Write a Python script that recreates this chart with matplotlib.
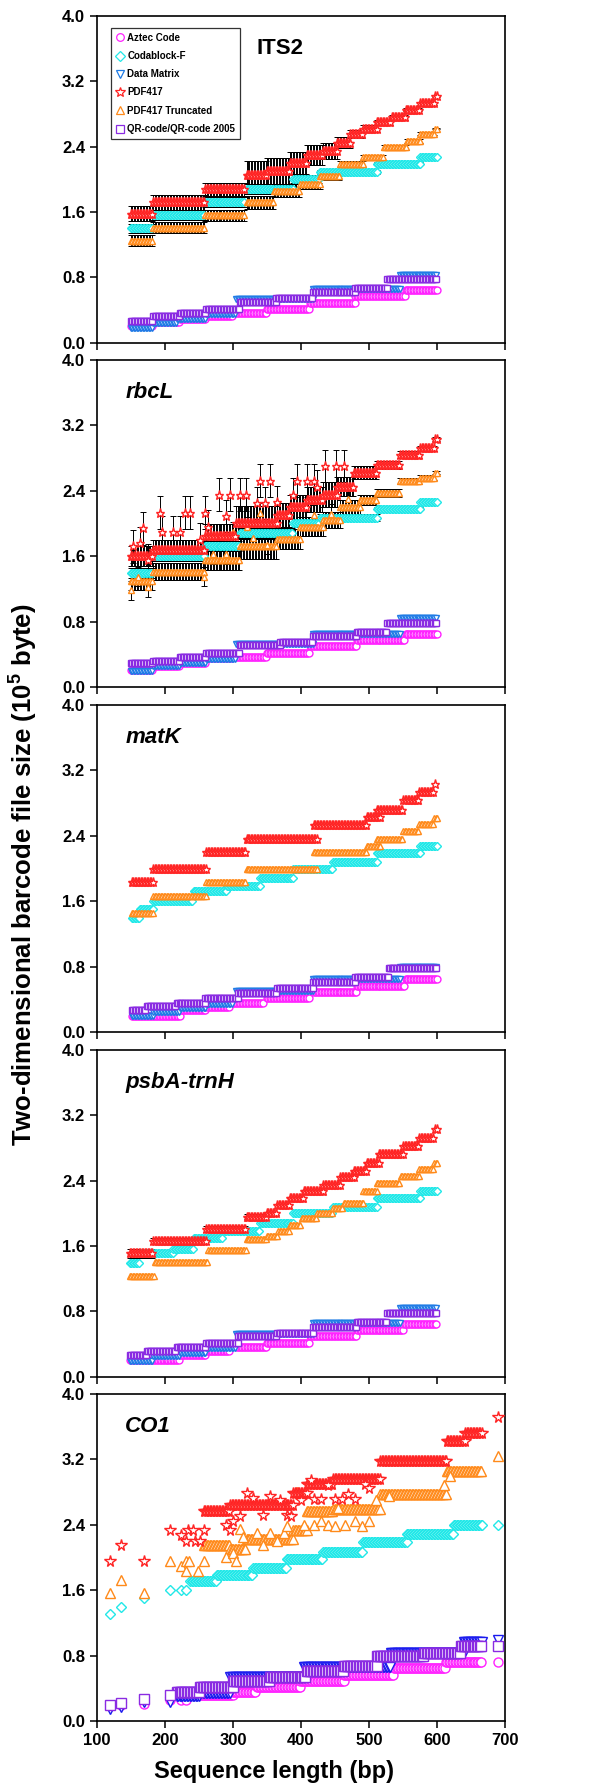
import numpy as np
import matplotlib
matplotlib.use('Agg')
import matplotlib.pyplot as plt
from matplotlib.lines import Line2D

plt.rcParams['font.family'] = ['Liberation Sans', 'DejaVu Sans']
plt.rcParams['font.weight'] = 'bold'
plt.rcParams['mathtext.fontset'] = 'custom'
plt.rcParams['mathtext.rm'] = 'Liberation Sans:bold'
plt.rcParams['mathtext.bf'] = 'Liberation Sans:bold'

# legend / series
names = ['Aztec Code', 'Codablock-F', 'Data Matrix', 'PDF417',
         'PDF417 Truncated', 'QR-code/QR-code 2005']
markers = ['o', 'D', 'v', '*', '^', 's']
colors = ['#ff22ff', '#22e8e8', '#1e7be6', '#ff2424', '#ff8a1a', '#8a2be2']

panel_titles = ['ITS2', 'rbcL', 'matK', 'psbA-trnH', 'CO1']
x_ticks = [100, 200, 300, 400, 500, 600, 700]
y_ticks = [0.0, 0.8, 1.6, 2.4, 3.2, 4.0]

# ---- data: step levels (x_start, x_end, size) ----
# ITS2
its2_aztec = [(150, 183, 0.21), (183, 222, 0.25), (222, 261, 0.29), (261, 300, 0.33), (305, 350, 0.37),
              (350, 413, 0.41), (413, 480, 0.49), (480, 554, 0.57), (554, 601, 0.65)]
its2_codablock = [(150, 183, 1.40), (183, 259, 1.56), (259, 318, 1.72), (320, 389, 1.88), (389, 428, 2.00),
                  (428, 512, 2.09), (512, 576, 2.19), (576, 601, 2.27)]
its2_codablock_sd = [0.06, 0.06, 0.06, 0.06, 0.05, 0.03, 0.02, 0.01]
its2_datamatrix = [(150, 183, 0.18), (183, 217, 0.24), (217, 261, 0.29), (261, 305, 0.35), (305, 418, 0.54),
                   (418, 546, 0.66), (546, 601, 0.83)]
its2_pdf417 = [(150, 183, 1.58), (183, 259, 1.72), (259, 318, 1.88), (320, 350, 2.05), (350, 384, 2.10),
               (384, 409, 2.20), (409, 433, 2.30), (433, 453, 2.35), (453, 473, 2.45), (473, 492, 2.55),
               (492, 512, 2.62), (512, 534, 2.70), (534, 554, 2.76), (554, 576, 2.85), (576, 596, 2.93),
               (598, 601, 3.02)]
its2_pdf417_sd = [0.09, 0.09, 0.08, 0.18, 0.16, 0.13, 0.12, 0.10, 0.07, 0.05, 0.04, 0.03, 0.03, 0.02, 0.02, 0.01]
its2_trunc = [(150, 183, 1.25), (183, 259, 1.41), (259, 318, 1.56), (320, 360, 1.72), (360, 399, 1.86),
              (399, 428, 1.94), (428, 458, 2.04), (458, 492, 2.19), (492, 522, 2.27), (522, 556, 2.39),
              (556, 576, 2.47), (576, 596, 2.56), (598, 601, 2.62)]
its2_trunc_sd = [0.07, 0.07, 0.07, 0.08, 0.08, 0.06, 0.05, 0.04, 0.03, 0.03, 0.02, 0.02, 0.01]
its2_qr = [(150, 183, 0.27), (183, 222, 0.33), (222, 261, 0.37), (261, 310, 0.42), (310, 364, 0.50),
           (364, 418, 0.55), (418, 480, 0.62), (480, 527, 0.67), (527, 601, 0.78)]

# rbcL
rbcl_aztec = [(150, 183, 0.21), (183, 222, 0.25), (222, 261, 0.29), (261, 300, 0.35), (300, 350, 0.37),
              (350, 413, 0.42), (413, 482, 0.50), (482, 554, 0.57), (554, 601, 0.65)]
rbcl_codablock = [(150, 183, 1.39), (183, 259, 1.60), (259, 310, 1.72), (310, 389, 1.88), (389, 428, 2.00),
                  (428, 512, 2.07), (512, 576, 2.18), (576, 601, 2.26)]
rbcl_codablock_sd = [0.06, 0.06, 0.06, 0.06, 0.05, 0.04, 0.02, 0.01]
rbcl_datamatrix = [(150, 183, 0.20), (183, 222, 0.25), (222, 261, 0.29), (261, 305, 0.34), (305, 418, 0.53),
                   (418, 546, 0.65), (546, 601, 0.84)]
rbcl_pdf417 = [(150, 183, 1.60), (183, 259, 1.68), (259, 305, 1.84), (305, 365, 2.01), (365, 384, 2.10),
               (384, 409, 2.20), (409, 433, 2.29), (433, 453, 2.35), (453, 478, 2.45), (478, 512, 2.62),
               (512, 546, 2.71), (546, 576, 2.84), (576, 596, 2.92), (598, 601, 3.03)]
rbcl_pdf417_sd = [0.12, 0.12, 0.15, 0.20, 0.15, 0.15, 0.15, 0.15, 0.12, 0.08, 0.05, 0.04, 0.03, 0.02]
rbcl_pdf417_x = [192, 195, 212, 222, 229, 237, 259, 264, 280, 296, 310, 319, 290, 335, 340, 355, 347, 365,
                 389, 395, 409, 419, 436, 451, 463, 424, 168, 153, 163, 175, 252]
rbcl_pdf417_y = [2.13, 1.89, 1.89, 1.89, 2.13, 2.13, 2.13, 1.96, 2.35, 2.35, 2.35, 2.35, 2.09, 2.25, 2.52,
                 2.52, 2.25, 2.26, 2.35, 2.52, 2.52, 2.52, 2.70, 2.70, 2.70, 2.45, 1.94, 1.72, 1.76, 1.55, 1.80]
rbcl_trunc = [(150, 183, 1.29), (183, 259, 1.41), (259, 310, 1.55), (310, 365, 1.72), (365, 399, 1.81),
              (399, 433, 1.96), (433, 458, 2.04), (458, 487, 2.20), (487, 512, 2.29), (512, 546, 2.37),
              (546, 576, 2.52), (576, 598, 2.56), (598, 601, 2.62)]
rbcl_trunc_sd = [0.10, 0.10, 0.12, 0.15, 0.12, 0.12, 0.10, 0.08, 0.06, 0.05, 0.04, 0.03, 0.02]
rbcl_trunc_x = [340, 320, 150, 160, 175, 258, 270, 290, 330, 350, 420, 445, 470, 300]
rbcl_trunc_y = [2.13, 1.96, 1.18, 1.35, 1.22, 1.35, 1.62, 1.62, 1.82, 1.74, 2.10, 2.12, 2.30, 1.90]
rbcl_qr = [(150, 183, 0.29), (183, 222, 0.32), (222, 261, 0.37), (261, 310, 0.41), (310, 370, 0.51),
           (370, 418, 0.55), (418, 482, 0.62), (482, 527, 0.67), (527, 601, 0.78)]

# matK
matk_aztec = [(151, 222, 0.20), (222, 261, 0.27), (261, 296, 0.31), (300, 345, 0.36), (350, 413, 0.41),
              (418, 482, 0.49), (482, 554, 0.56), (554, 601, 0.65)]
matk_codablock = [(151, 163, 1.39), (163, 183, 1.51), (183, 242, 1.60), (242, 291, 1.72), (291, 340, 1.79),
                  (340, 389, 1.88), (389, 448, 1.99), (448, 512, 2.08), (512, 576, 2.19), (576, 601, 2.28)]
matk_datamatrix = [(151, 183, 0.19), (183, 222, 0.24), (222, 261, 0.29), (261, 300, 0.34), (305, 418, 0.50),
                   (418, 546, 0.65), (546, 601, 0.80)]
matk_pdf417 = [(151, 183, 1.83), (183, 261, 1.99), (261, 320, 2.20), (320, 424, 2.36), (419, 497, 2.53),
               (497, 517, 2.63), (512, 551, 2.72), (551, 574, 2.84), (574, 596, 2.93), (598, 600, 3.03)]
matk_trunc = [(151, 183, 1.46), (183, 261, 1.66), (261, 320, 1.83), (320, 424, 1.99), (419, 497, 2.20),
              (497, 517, 2.28), (512, 551, 2.36), (551, 574, 2.46), (574, 596, 2.54), (596, 601, 2.62)]
matk_qr = [(151, 173, 0.27), (173, 217, 0.32), (217, 259, 0.36), (259, 308, 0.41), (308, 365, 0.48),
           (365, 418, 0.54), (418, 480, 0.61), (480, 529, 0.67), (529, 601, 0.78)]

# psbA-trnH
psba_aztec = [(148, 222, 0.21), (222, 261, 0.27), (261, 296, 0.32), (305, 350, 0.37), (350, 413, 0.42),
              (413, 482, 0.50), (482, 551, 0.57), (551, 601, 0.65)]
psba_codablock = [(148, 163, 1.39), (163, 212, 1.51), (212, 242, 1.57), (242, 286, 1.70), (286, 340, 1.79),
                  (340, 389, 1.88), (389, 448, 2.00), (448, 512, 2.08), (512, 576, 2.19), (576, 601, 2.27)]
psba_datamatrix = [(148, 183, 0.20), (183, 222, 0.25), (222, 261, 0.29), (261, 305, 0.35), (305, 418, 0.53),
                   (418, 546, 0.66), (546, 601, 0.84)]
psba_pdf417 = [(148, 183, 1.51), (183, 261, 1.66), (261, 320, 1.81), (320, 350, 1.96), (350, 365, 2.00),
               (365, 384, 2.10), (384, 404, 2.19), (404, 433, 2.27), (433, 458, 2.35), (458, 478, 2.45),
               (478, 497, 2.52), (497, 515, 2.61), (515, 551, 2.72), (551, 574, 2.82), (574, 596, 2.92),
               (598, 601, 3.03)]
psba_pdf417_sd = [0.05, 0.04, 0.04, 0.03, 0.02, 0, 0, 0, 0, 0, 0, 0, 0, 0, 0, 0]
psba_trunc = [(148, 185, 1.23), (185, 264, 1.40), (264, 320, 1.55), (320, 350, 1.69), (350, 367, 1.72),
              (367, 384, 1.79), (384, 401, 1.86), (401, 424, 1.94), (424, 448, 2.00), (448, 463, 2.07),
              (463, 492, 2.13), (492, 512, 2.27), (512, 547, 2.37), (547, 574, 2.46), (574, 596, 2.54),
              (596, 601, 2.62)]
psba_qr = [(148, 173, 0.27), (173, 217, 0.32), (217, 261, 0.37), (261, 308, 0.41), (308, 365, 0.50),
           (365, 418, 0.54), (418, 482, 0.61), (482, 527, 0.67), (527, 601, 0.78)]

# CO1 (sparse short sequences listed one by one, dense part as steps)
co1_aztec = [(251, 300, 0.32), (300, 335, 0.36), (335, 399, 0.41), (399, 463, 0.49), (463, 537, 0.56),
             (537, 613, 0.65), (613, 667, 0.72)]
co1_aztec_x = [119, 136, 169, 208, 224, 231, 690]
co1_aztec_y = [0.18, 0.19, 0.21, 0.26, 0.26, 0.26, 0.72]
co1_codablock = [(237, 276, 1.71), (276, 330, 1.79), (330, 379, 1.87), (379, 433, 1.98), (433, 492, 2.07),
                 (492, 556, 2.19), (556, 625, 2.29), (625, 667, 2.39)]
co1_codablock_x = [119, 136, 169, 208, 224, 231, 690]
co1_codablock_y = [1.31, 1.39, 1.50, 1.60, 1.60, 1.60, 2.39]
co1_datamatrix = [(217, 251, 0.30), (251, 296, 0.34), (296, 404, 0.54), (404, 532, 0.66), (532, 640, 0.83),
                  (640, 667, 0.97)]
co1_datamatrix_x = [119, 136, 169, 208, 690]
co1_datamatrix_y = [0.15, 0.17, 0.23, 0.23, 0.99]
co1_pdf417 = [(257, 296, 2.57), (296, 389, 2.64), (389, 409, 2.79), (409, 448, 2.90), (448, 517, 2.96),
              (517, 615, 3.18), (615, 642, 3.42), (642, 667, 3.52)]
co1_pdf417_x = [119, 136, 169, 208, 224, 231, 234, 241, 244, 251, 257, 690,
                290, 295, 300, 310, 320, 330, 345, 355, 370, 380, 385, 400, 415, 420, 430, 440, 450,
                460, 470, 480, 495, 500]
co1_pdf417_y = [1.95, 2.15, 1.95, 2.34, 2.27, 2.20, 2.34, 2.34, 2.20, 2.20, 2.34, 3.71,
                2.40, 2.34, 2.45, 2.50, 2.79, 2.72, 2.52, 2.75, 2.70, 2.52, 2.50, 2.70, 2.94, 2.71, 2.71,
                2.88, 2.71, 2.71, 2.78, 2.71, 2.90, 2.85]
co1_trunc = [(257, 296, 2.15), (296, 320, 2.10), (320, 389, 2.22), (389, 409, 2.34), (409, 448, 2.57),
             (448, 517, 2.59), (517, 615, 2.77), (615, 667, 3.06)]
co1_trunc_x = [119, 136, 169, 208, 224, 231, 236, 231, 248, 257, 690,
               290, 300, 305, 310, 315, 335, 345, 355, 365, 375, 380, 395, 405, 420, 430, 440, 450, 455,
               465, 480, 490, 500, 510, 530, 610, 620]
co1_trunc_y = [1.56, 1.72, 1.56, 1.95, 1.89, 1.95, 1.95, 1.83, 1.83, 1.95, 3.24,
               2.00, 2.05, 1.95, 2.35, 2.25, 2.30, 2.15, 2.30, 2.20, 2.30, 2.38, 2.80, 2.40, 2.40, 2.45,
               2.40, 2.38, 2.60, 2.40, 2.45, 2.38, 2.45, 2.70, 2.75, 2.88, 3.00]
co1_qr = [(217, 251, 0.36), (251, 300, 0.42), (300, 354, 0.49), (354, 409, 0.54), (409, 463, 0.61),
          (463, 512, 0.67), (512, 581, 0.79), (581, 635, 0.83), (635, 667, 0.92)]
co1_qr_x = [119, 136, 169, 208, 690]
co1_qr_y = [0.19, 0.22, 0.27, 0.32, 0.92]


def expand(segs, step=2.2):
    xs, ys = [], []
    for x0, x1, y in segs:
        xx = np.arange(x0, max(x1, x0 + 0.1), step)
        xs.extend(xx)
        ys.extend([y] * len(xx))
    return np.array(xs), np.array(ys)


def expand_sd(segs, sd, step=2.2):
    out = []
    for (x0, x1, y), e in zip(segs, sd):
        xx = np.arange(x0, max(x1, x0 + 0.1), step)
        out.extend([e] * len(xx))
    return np.array(out)


def draw_series(ax, i, segs, sd=None, extra_x=None, extra_y=None, extra_sd=0.0, ms=5.0, color=None):
    c = color or colors[i]
    x, y = expand(segs)
    if sd is not None:
        e = expand_sd(segs, sd)
        m = e > 0
        ax.errorbar(x[m], y[m], yerr=e[m], fmt='none', ecolor='black', elinewidth=0.7,
                    capsize=2.5, capthick=0.7, zorder=2)
    if extra_x is not None:
        if extra_sd > 0:
            ax.errorbar(extra_x, extra_y, yerr=extra_sd, fmt='none', ecolor='black', elinewidth=0.7,
                        capsize=2.5, capthick=0.7, zorder=2)
        x = np.concatenate([x, extra_x])
        y = np.concatenate([y, extra_y])
    s = ms * 1.3 if markers[i] == '*' else ms
    if markers[i] == 'D':
        s = ms * 0.85
    ax.plot(x, y, ls='none', marker=markers[i], ms=s, mfc='white', mec=c, mew=1.0, zorder=3)


fig = plt.figure(figsize=(6.14, 17.88), dpi=100)
bottoms = [0.8082, 0.6158, 0.4228, 0.2299, 0.0375]
axes = [fig.add_axes([0.158, b, 0.664, 0.183]) for b in bottoms]

# ITS2
ax = axes[0]
draw_series(ax, 0, its2_aztec)
draw_series(ax, 2, its2_datamatrix)
draw_series(ax, 5, its2_qr)
draw_series(ax, 1, its2_codablock, its2_codablock_sd)
draw_series(ax, 4, its2_trunc, its2_trunc_sd)
draw_series(ax, 3, its2_pdf417, its2_pdf417_sd)

# rbcL
ax = axes[1]
draw_series(ax, 0, rbcl_aztec)
draw_series(ax, 2, rbcl_datamatrix)
draw_series(ax, 5, rbcl_qr)
draw_series(ax, 1, rbcl_codablock, rbcl_codablock_sd)
draw_series(ax, 4, rbcl_trunc, rbcl_trunc_sd, rbcl_trunc_x, rbcl_trunc_y, 0.12)
draw_series(ax, 3, rbcl_pdf417, rbcl_pdf417_sd, rbcl_pdf417_x, rbcl_pdf417_y, 0.2)

# matK
ax = axes[2]
draw_series(ax, 0, matk_aztec)
draw_series(ax, 2, matk_datamatrix)
draw_series(ax, 5, matk_qr)
draw_series(ax, 1, matk_codablock)
draw_series(ax, 4, matk_trunc)
draw_series(ax, 3, matk_pdf417)

# psbA-trnH
ax = axes[3]
draw_series(ax, 0, psba_aztec)
draw_series(ax, 2, psba_datamatrix)
draw_series(ax, 5, psba_qr)
draw_series(ax, 1, psba_codablock)
draw_series(ax, 4, psba_trunc)
draw_series(ax, 3, psba_pdf417, psba_pdf417_sd)

# CO1
ax = axes[4]
draw_series(ax, 0, co1_aztec, None, co1_aztec_x, co1_aztec_y, ms=6.5)
draw_series(ax, 2, co1_datamatrix, None, co1_datamatrix_x, co1_datamatrix_y, ms=6.5, color='#1a1aee')
draw_series(ax, 5, co1_qr, None, co1_qr_x, co1_qr_y, ms=6.5)
draw_series(ax, 1, co1_codablock, None, co1_codablock_x, co1_codablock_y, ms=6.5)
draw_series(ax, 4, co1_trunc, None, co1_trunc_x, co1_trunc_y, ms=6.5)
draw_series(ax, 3, co1_pdf417, None, co1_pdf417_x, co1_pdf417_y, ms=6.5)

for k, ax in enumerate(axes):
    ax.set_xlim(100, 700)
    ax.set_ylim(0, 4.0)
    ax.set_xticks(x_ticks)
    ax.set_yticks(y_ticks)
    ax.set_yticklabels(['%.1f' % v for v in y_ticks], fontsize=12, fontweight='bold')
    ax.tick_params(direction='out', length=5, width=1.1, top=False, right=False)
    for sp in ax.spines.values():
        sp.set_linewidth(1.2)
    if k < 4:
        ax.set_xticklabels([])
    else:
        ax.set_xticklabels([str(v) for v in x_ticks], fontsize=12, fontweight='bold')
    style = 'normal' if k == 0 else 'italic'
    tx = 0.392 if k == 0 else 0.069
    ax.text(tx, 0.90, panel_titles[k], transform=ax.transAxes, fontsize=16,
            fontweight='bold', style=style, ha='left', va='center')

handles = [Line2D([], [], ls='none', marker=markers[i], mfc='white', mec=colors[i], mew=0.9,
                  ms=7 if markers[i] == '*' else 5.5) for i in range(6)]
leg = axes[0].legend(handles, names, loc='upper left', bbox_to_anchor=(0.034, 0.963),
                     frameon=True, fancybox=False, edgecolor='black', fontsize=7,
                     handletextpad=0.3, handlelength=0.9, labelspacing=0.85, borderpad=0.5,
                     borderaxespad=0)
leg.get_frame().set_linewidth(0.9)
for t in leg.get_texts():
    t.set_fontweight('bold')

fig.text(0.036, 0.511, r'Two-dimensional barcode file size (10$^{5}$ byte)', rotation=90,
         ha='center', va='center', fontsize=18.5, fontweight='bold')
fig.text(0.446, 0.0095, 'Sequence length (bp)', ha='center', va='center',
         fontsize=17, fontweight='bold')

fig.savefig('out.png', dpi=100)
